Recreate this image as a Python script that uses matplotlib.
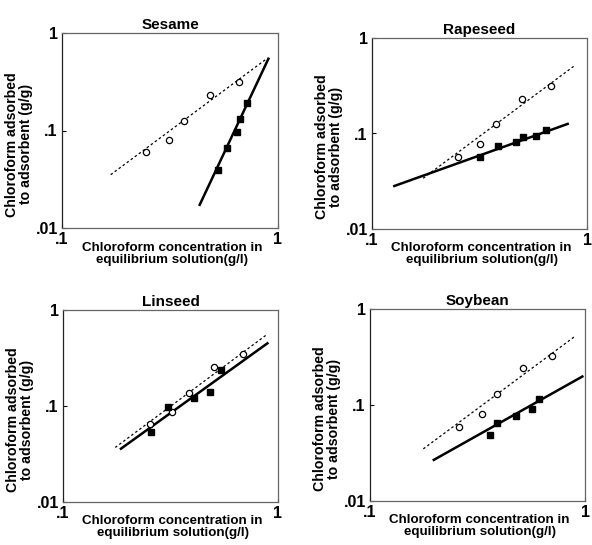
import matplotlib
matplotlib.use("Agg")
import matplotlib.pyplot as plt
import numpy as np

plt.rcParams['font.family'] = ['Liberation Sans', 'DejaVu Sans']
plt.rcParams['font.weight'] = 'bold'

titles = ["Sesame", "Rapeseed", "Linseed", "Soybean"]

# open circles (dotted fit)
open_x = [
    [0.244, 0.312, 0.369, 0.484, 0.658],
    [0.251, 0.317, 0.379, 0.498, 0.680],
    [0.254, 0.322, 0.384, 0.505, 0.688],
    [0.259, 0.331, 0.391, 0.517, 0.705],
]
open_y = [
    [0.0597, 0.0805, 0.126, 0.233, 0.314],
    [0.0574, 0.0773, 0.125, 0.231, 0.316],
    [0.0647, 0.0863, 0.136, 0.255, 0.346],
    [0.0597, 0.0809, 0.130, 0.240, 0.326],
]
# filled squares (solid fit)
fill_x = [
    [0.526, 0.583, 0.644, 0.670, 0.718],
    [0.319, 0.384, 0.469, 0.506, 0.579, 0.647],
    [0.257, 0.307, 0.408, 0.484, 0.546],
    [0.361, 0.388, 0.476, 0.565, 0.609],
]
fill_y = [
    [0.039, 0.0662, 0.0966, 0.132, 0.191],
    [0.0574, 0.0748, 0.081, 0.093, 0.0945, 0.109],
    [0.053, 0.0965, 0.1226, 0.139, 0.236],
    [0.0489, 0.0657, 0.077, 0.0905, 0.115],
]
# fitted lines: endpoints
dash_x = [[0.168, 0.883], [0.173, 0.866], [0.175, 0.883], [0.177, 0.898]]
dash_y = [[0.0352, 0.541], [0.034, 0.504], [0.037, 0.55], [0.0349, 0.519]]
solid_x = [[0.434, 0.903], [0.127, 0.813], [0.186, 0.893], [0.198, 0.972]]
solid_y = [[0.0173, 0.545], [0.0282, 0.126], [0.0359, 0.45], [0.0268, 0.198]]

W, H = 592, 545
fig = plt.figure(figsize=(W / 100, H / 100), dpi=100)

# axes boxes in pixels: left, top, right, bottom
boxes = [(62, 33, 278, 228), (372, 38, 587, 229),
         (63, 310, 278, 502), (370, 309, 585, 501)]

for i, (l, t, r, b) in enumerate(boxes):
    ax = fig.add_axes([l / W, 1 - b / H, (r - l) / W, (b - t) / H])
    ax.set_xscale('log')
    ax.set_yscale('log')
    ax.set_xlim(0.1, 1)
    ax.set_ylim(0.01, 1)
    ax.plot(dash_x[i], dash_y[i], color='black', lw=0.9, ls=(0, (2, 2)))
    ax.plot(solid_x[i], solid_y[i], color='black', lw=1.8)
    ax.plot(open_x[i], open_y[i], 'o', mfc='white', mec='black', ms=4.5, mew=0.9)
    ax.plot(fill_x[i], fill_y[i], 's', color='black', ms=4.3)
    ax.set_xticks([0.1, 1])
    ax.set_xticklabels(['.1', '1'])
    ax.set_yticks([0.01, 0.1, 1])
    ax.set_yticklabels(['.01', '.1', '1'])
    ax.minorticks_off()
    ax.tick_params(direction='in', length=3, width=0.8, labelsize=11.5, pad=3)
    for s in ax.spines.values():
        s.set_color('#666666')
        s.set_linewidth(0.9)
    ax.spines['left'].set_color('#222222')
    ax.set_title(titles[i], fontsize=11, fontweight='bold', pad=3)
    ax.set_xlabel("Chloroform concentration in\nequilibrium solution(g/l)",
                  fontsize=9.6, fontweight='bold', labelpad=0, linespacing=1.0)
    ax.xaxis.set_label_coords(0.51, -0.07, transform=ax.transAxes)
    ax.xaxis.label.set_va('top')
    ax.set_ylabel("Chloroform adsorbed\nto adsorbent (g/g)",
                  fontsize=10.2, fontweight='bold', linespacing=1.0)
    ax.yaxis.set_label_coords(-0.135, 0.43)

fig.savefig("out.png", dpi=100, facecolor='white')
